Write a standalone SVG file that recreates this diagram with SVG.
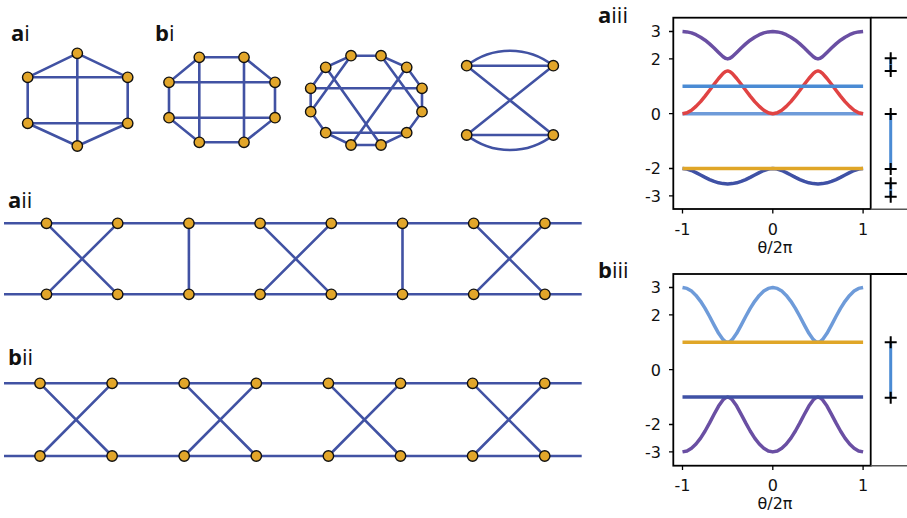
<svg xmlns="http://www.w3.org/2000/svg" width="907" height="518" viewBox="0 0 907 518">
<style>
.e{stroke:#4152a3;stroke-width:2.6;fill:none}
.n{fill:#e2a62a;stroke:#111;stroke-width:1.4}
.lbl{font-family:"Open Sans","Liberation Sans",sans-serif;font-size:22px;fill:#111}
.b{font-weight:700}
.tk{font-family:"DejaVu Sans",sans-serif;font-size:16px;fill:#111}
.ax{fill:none;stroke:#000;stroke-width:1.8}
.tick{stroke:#000;stroke-width:1.3}
.cv{fill:none;stroke-width:3.5;stroke-linejoin:round}
.pm{stroke:#000;stroke-width:2;fill:none}
.bar{stroke:#4a8bd4;stroke-width:3}
</style>
<rect width="907" height="518" fill="#fff"/>

<!-- panel labels -->
<g id="labels">
<text class="lbl" x="11" y="41"><tspan class="b">a</tspan>i</text>
<text class="lbl" x="155" y="41"><tspan class="b">b</tspan>i</text>
<text class="lbl" x="8" y="208"><tspan class="b">a</tspan>ii</text>
<text class="lbl" x="8" y="365"><tspan class="b">b</tspan>ii</text>
<text class="lbl" x="598" y="23"><tspan class="b">a</tspan>iii</text>
<text class="lbl" x="598" y="278"><tspan class="b">b</tspan>iii</text>
</g>

<g id="connectors">
<!-- ai -->
<path class="e" d="M77.3,53.3L27.7,77.3M77.3,53.3L127.7,77.3M27.7,77.3H127.7M27.7,77.3V123.3M127.7,77.3V123.3M27.7,123.3H127.7M27.7,123.3L77.3,146M127.7,123.3L77.3,146M77.3,53.3V146"/>
<!-- bi -->
<path class="e" d="M199.3,57.3H244L275,82.3V117.7L244,142.3H199.3L169,117.7V82.3Z M199.3,57.3V142.3M244,57.3V142.3M169,82.3H275M169,117.7H275"/>
<!-- 12-node -->
<path class="e" d="M351,55.7H381L406.7,67.3L422,88.3V111.7L406.7,132.7L381,145H351L325.7,132.7L310.7,111.7V88.3L325.7,67.3Z M310.7,88.3H422M325.7,132.7H406.7M351,55.7L310.7,111.7M325.7,67.3L381,145M381,55.7L422,111.7M406.7,67.3L351,145"/>
<!-- 4-node -->
<path class="e" d="M466.7,65.7H553.3M466.7,135H553.3M466.7,65.7L553.3,135M553.3,65.7L466.7,135M466.7,65.7A70,70 0 0 1 553.3,65.7M466.7,135A70,70 0 0 0 553.3,135"/>
<!-- aii -->
<path class="e" d="M4,223.3H581.7M4,294.3H581.7M46.5,223.3L117.7,294.3M46.5,294.3L117.7,223.3M188.9,223.3V294.3M260.1,223.3L331.3,294.3M260.1,294.3L331.3,223.3M402.5,223.3V294.3M473.7,223.3L544.9,294.3M473.7,294.3L544.9,223.3"/>
<!-- bii -->
<path class="e" d="M4,383.3H581.7M4,456H581.7M40,383.3L112.1,456M40,456L112.1,383.3M184.2,383.3L256.3,456M184.2,456L256.3,383.3M328.4,383.3L400.5,456M328.4,456L400.5,383.3M472.6,383.3L544.7,456M472.6,456L544.7,383.3"/>
</g>

<!-- ai nodes -->
<g id="ai-n1"><circle class="n" cx="77.3" cy="53.3" r="5.2"/></g>
<g id="ai-n2"><circle class="n" cx="27.7" cy="77.3" r="5.2"/></g>
<g id="ai-n3"><circle class="n" cx="127.7" cy="77.3" r="5.2"/></g>
<g id="ai-n4"><circle class="n" cx="27.7" cy="123.3" r="5.2"/></g>
<g id="ai-n5"><circle class="n" cx="127.7" cy="123.3" r="5.2"/></g>
<g id="ai-n6"><circle class="n" cx="77.3" cy="146" r="5.2"/></g>
<!-- bi nodes -->
<g id="bi-n1"><circle class="n" cx="199.3" cy="57.3" r="5.2"/></g>
<g id="bi-n2"><circle class="n" cx="244" cy="57.3" r="5.2"/></g>
<g id="bi-n3"><circle class="n" cx="169" cy="82.3" r="5.2"/></g>
<g id="bi-n4"><circle class="n" cx="275" cy="82.3" r="5.2"/></g>
<g id="bi-n5"><circle class="n" cx="169" cy="117.7" r="5.2"/></g>
<g id="bi-n6"><circle class="n" cx="275" cy="117.7" r="5.2"/></g>
<g id="bi-n7"><circle class="n" cx="199.3" cy="142.3" r="5.2"/></g>
<g id="bi-n8"><circle class="n" cx="244" cy="142.3" r="5.2"/></g>
<!-- 12-node graph -->
<g id="c-n1"><circle class="n" cx="351" cy="55.7" r="5.2"/></g>
<g id="c-n2"><circle class="n" cx="381" cy="55.7" r="5.2"/></g>
<g id="c-n3"><circle class="n" cx="325.7" cy="67.3" r="5.2"/></g>
<g id="c-n4"><circle class="n" cx="406.7" cy="67.3" r="5.2"/></g>
<g id="c-n5"><circle class="n" cx="310.7" cy="88.3" r="5.2"/></g>
<g id="c-n6"><circle class="n" cx="422" cy="88.3" r="5.2"/></g>
<g id="c-n7"><circle class="n" cx="310.7" cy="111.7" r="5.2"/></g>
<g id="c-n8"><circle class="n" cx="422" cy="111.7" r="5.2"/></g>
<g id="c-n9"><circle class="n" cx="325.7" cy="132.7" r="5.2"/></g>
<g id="c-n10"><circle class="n" cx="406.7" cy="132.7" r="5.2"/></g>
<g id="c-n11"><circle class="n" cx="351" cy="145" r="5.2"/></g>
<g id="c-n12"><circle class="n" cx="381" cy="145" r="5.2"/></g>
<!-- 4-node graph -->
<g id="d-n1"><circle class="n" cx="466.7" cy="65.7" r="5.2"/></g>
<g id="d-n2"><circle class="n" cx="553.3" cy="65.7" r="5.2"/></g>
<g id="d-n3"><circle class="n" cx="466.7" cy="135" r="5.2"/></g>
<g id="d-n4"><circle class="n" cx="553.3" cy="135" r="5.2"/></g>
<!-- aii nodes -->
<g id="aii-t1"><circle class="n" cx="46.5" cy="223.3" r="5.2"/></g>
<g id="aii-t2"><circle class="n" cx="117.7" cy="223.3" r="5.2"/></g>
<g id="aii-t3"><circle class="n" cx="188.9" cy="223.3" r="5.2"/></g>
<g id="aii-t4"><circle class="n" cx="260.1" cy="223.3" r="5.2"/></g>
<g id="aii-t5"><circle class="n" cx="331.3" cy="223.3" r="5.2"/></g>
<g id="aii-t6"><circle class="n" cx="402.5" cy="223.3" r="5.2"/></g>
<g id="aii-t7"><circle class="n" cx="473.7" cy="223.3" r="5.2"/></g>
<g id="aii-t8"><circle class="n" cx="544.9" cy="223.3" r="5.2"/></g>
<g id="aii-b1"><circle class="n" cx="46.5" cy="294.3" r="5.2"/></g>
<g id="aii-b2"><circle class="n" cx="117.7" cy="294.3" r="5.2"/></g>
<g id="aii-b3"><circle class="n" cx="188.9" cy="294.3" r="5.2"/></g>
<g id="aii-b4"><circle class="n" cx="260.1" cy="294.3" r="5.2"/></g>
<g id="aii-b5"><circle class="n" cx="331.3" cy="294.3" r="5.2"/></g>
<g id="aii-b6"><circle class="n" cx="402.5" cy="294.3" r="5.2"/></g>
<g id="aii-b7"><circle class="n" cx="473.7" cy="294.3" r="5.2"/></g>
<g id="aii-b8"><circle class="n" cx="544.9" cy="294.3" r="5.2"/></g>
<!-- bii nodes -->
<g id="bii-t1"><circle class="n" cx="40" cy="383.3" r="5.2"/></g>
<g id="bii-t2"><circle class="n" cx="112.1" cy="383.3" r="5.2"/></g>
<g id="bii-t3"><circle class="n" cx="184.2" cy="383.3" r="5.2"/></g>
<g id="bii-t4"><circle class="n" cx="256.3" cy="383.3" r="5.2"/></g>
<g id="bii-t5"><circle class="n" cx="328.4" cy="383.3" r="5.2"/></g>
<g id="bii-t6"><circle class="n" cx="400.5" cy="383.3" r="5.2"/></g>
<g id="bii-t7"><circle class="n" cx="472.6" cy="383.3" r="5.2"/></g>
<g id="bii-t8"><circle class="n" cx="544.7" cy="383.3" r="5.2"/></g>
<g id="bii-b1"><circle class="n" cx="40" cy="456" r="5.2"/></g>
<g id="bii-b2"><circle class="n" cx="112.1" cy="456" r="5.2"/></g>
<g id="bii-b3"><circle class="n" cx="184.2" cy="456" r="5.2"/></g>
<g id="bii-b4"><circle class="n" cx="256.3" cy="456" r="5.2"/></g>
<g id="bii-b5"><circle class="n" cx="328.4" cy="456" r="5.2"/></g>
<g id="bii-b6"><circle class="n" cx="400.5" cy="456" r="5.2"/></g>
<g id="bii-b7"><circle class="n" cx="472.6" cy="456" r="5.2"/></g>
<g id="bii-b8"><circle class="n" cx="544.7" cy="456" r="5.2"/></g>

<!-- aiii plot -->
<g id="plot-aiii">
<polyline class="cv" stroke="#3f51a5" points="682.5,168.5 687.0,169.0 691.5,170.5 696.0,172.6 700.6,175.0 705.1,177.4 709.6,179.6 714.1,181.4 718.6,182.8 723.1,183.6 727.7,183.9 732.2,183.6 736.7,182.8 741.2,181.4 745.7,179.6 750.2,177.4 754.7,175.0 759.3,172.6 763.8,170.5 768.3,169.0 772.8,168.5 777.3,169.0 781.8,170.5 786.3,172.6 790.9,175.0 795.4,177.4 799.9,179.6 804.4,181.4 808.9,182.8 813.4,183.6 818.0,183.9 822.5,183.6 827.0,182.8 831.5,181.4 836.0,179.6 840.5,177.4 845.0,175.0 849.6,172.6 854.1,170.5 858.6,169.0 863.1,168.5"/>
<line class="cv" stroke="#e0a628" x1="682.5" y1="168.5" x2="863.1" y2="168.5"/>
<line class="cv" stroke="#6e9bd9" x1="682.5" y1="113.7" x2="863.1" y2="113.7"/>
<polyline class="cv" stroke="#e04343" points="682.5,113.7 687.0,112.8 691.5,110.3 696.0,106.4 700.6,101.6 705.1,96.1 709.6,90.3 714.1,84.3 718.6,78.5 723.1,73.4 725.4,71.6 727.7,70.9 729.9,71.6 732.2,73.4 736.7,78.5 741.2,84.3 745.7,90.3 750.2,96.1 754.7,101.6 759.3,106.4 763.8,110.3 768.3,112.8 772.8,113.7 777.3,112.8 781.8,110.3 786.3,106.4 790.9,101.6 795.4,96.1 799.9,90.3 804.4,84.3 808.9,78.5 813.4,73.4 815.7,71.6 818.0,70.9 820.2,71.6 822.5,73.4 827.0,78.5 831.5,84.3 836.0,90.3 840.5,96.1 845.0,101.6 849.6,106.4 854.1,110.3 858.6,112.8 863.1,113.7"/>
<line class="cv" stroke="#4a8bd4" x1="682.5" y1="86.3" x2="863.1" y2="86.3"/>
<polyline class="cv" stroke="#6a4fa3" points="682.5,31.5 687.0,31.9 691.5,32.9 696.0,34.7 700.6,37.2 705.1,40.2 709.6,43.9 714.1,48.0 718.6,52.4 723.1,56.7 725.4,58.3 727.7,58.9 729.9,58.3 732.2,56.7 736.7,52.4 741.2,48.0 745.7,43.9 750.2,40.2 754.7,37.2 759.3,34.7 763.8,32.9 768.3,31.9 772.8,31.5 777.3,31.9 781.8,32.9 786.3,34.7 790.9,37.2 795.4,40.2 799.9,43.9 804.4,48.0 808.9,52.4 813.4,56.7 815.7,58.3 818.0,58.9 820.2,58.3 822.5,56.7 827.0,52.4 831.5,48.0 836.0,43.9 840.5,40.2 845.0,37.2 849.6,34.7 854.1,32.9 858.6,31.9 863.1,31.5"/>
<rect class="ax" x="673.3" y="17.7" width="197.4" height="191.3"/>
<line x1="870.7" y1="17.7" x2="907" y2="17.7" stroke="#000" stroke-width="1.8"/>
<line x1="870.7" y1="209.3" x2="907" y2="209.3" stroke="#555" stroke-width="1.5"/>
<path class="tick" d="M669,31.5H673.3M669,58.9H673.3M669,113.7H673.3M669,168.5H673.3M669,195.9H673.3M682.5,209V213.5M772.8,209V213.5M863.1,209V213.5"/>
<g class="tk" text-anchor="end">
<text x="661" y="37.3">3</text>
<text x="661" y="64.7">2</text>
<text x="661" y="119.5">0</text>
<text x="661" y="174.3">-2</text>
<text x="661" y="201.7">-3</text>
</g>
<g class="tk" text-anchor="middle">
<text x="682.5" y="235">-1</text>
<text x="772.8" y="235">0</text>
<text x="863.1" y="235">1</text>
<text x="775" y="253">θ/2π</text>
</g>
<path class="bar" d="M890.7,58.3V71M890.7,114V169M890.7,183.3V196.7"/>
<path class="pm" d="M884.7,58.3H896.7M890.7,52.3V64.3M884.7,71H896.7M890.7,65V77M884.7,114H896.7M890.7,108V120M884.7,169H896.7M890.7,163V175M884.7,183.3H896.7M890.7,177.3V189.3M884.7,196.7H896.7M890.7,190.7V202.7"/>
</g>

<!-- biii plot -->
<g id="plot-biii">
<polyline class="cv" stroke="#6e9bd9" points="682.5,287.5 687.0,288.4 691.5,291.1 696.0,295.4 700.6,301.3 705.1,308.4 709.6,316.5 714.1,325.1 718.6,333.3 723.1,339.7 725.4,341.6 727.7,342.3 729.9,341.6 732.2,339.7 736.7,333.3 741.2,325.1 745.7,316.5 750.2,308.4 754.7,301.3 759.3,295.4 763.8,291.1 768.3,288.4 772.8,287.5 777.3,288.4 781.8,291.1 786.3,295.4 790.9,301.3 795.4,308.4 799.9,316.5 804.4,325.1 808.9,333.3 813.4,339.7 815.7,341.6 818.0,342.3 820.2,341.6 822.5,339.7 827.0,333.3 831.5,325.1 836.0,316.5 840.5,308.4 845.0,301.3 849.6,295.4 854.1,291.1 858.6,288.4 863.1,287.5"/>
<polyline class="cv" stroke="#6a4fa3" points="682.5,451.9 687.0,451.0 691.5,448.3 696.0,444.0 700.6,438.1 705.1,431.0 709.6,422.9 714.1,414.3 718.6,406.1 723.1,399.7 725.4,397.8 727.7,397.1 729.9,397.8 732.2,399.7 736.7,406.1 741.2,414.3 745.7,422.9 750.2,431.0 754.7,438.1 759.3,444.0 763.8,448.3 768.3,451.0 772.8,451.9 777.3,451.0 781.8,448.3 786.3,444.0 790.9,438.1 795.4,431.0 799.9,422.9 804.4,414.3 808.9,406.1 813.4,399.7 815.7,397.8 818.0,397.1 820.2,397.8 822.5,399.7 827.0,406.1 831.5,414.3 836.0,422.9 840.5,431.0 845.0,438.1 849.6,444.0 854.1,448.3 858.6,451.0 863.1,451.9"/>
<line class="cv" stroke="#e0a628" x1="682.5" y1="342.3" x2="863.1" y2="342.3"/>
<line class="cv" stroke="#3f51a5" x1="682.5" y1="397.1" x2="863.1" y2="397.1"/>
<rect class="ax" x="673.3" y="274" width="197.4" height="191.7"/>
<line x1="870.7" y1="274" x2="907" y2="274" stroke="#000" stroke-width="1.8"/>
<line x1="870.7" y1="465.7" x2="907" y2="465.7" stroke="#555" stroke-width="1.5"/>
<path class="tick" d="M669,287.5H673.3M669,314.9H673.3M669,369.7H673.3M669,424.5H673.3M669,451.9H673.3M682.5,465.7V470M772.8,465.7V470M863.1,465.7V470"/>
<g class="tk" text-anchor="end">
<text x="661" y="293.3">3</text>
<text x="661" y="320.7">2</text>
<text x="661" y="375.5">0</text>
<text x="661" y="430.3">-2</text>
<text x="661" y="457.7">-3</text>
</g>
<g class="tk" text-anchor="middle">
<text x="682.5" y="490.5">-1</text>
<text x="772.8" y="490.5">0</text>
<text x="863.1" y="490.5">1</text>
<text x="775" y="509">θ/2π</text>
</g>
<path class="bar" d="M890.7,342.3V397.7"/>
<path class="pm" d="M884.7,342.3H896.7M890.7,336.3V348.3M884.7,397.7H896.7M890.7,391.7V403.7"/>
</g>
</svg>
